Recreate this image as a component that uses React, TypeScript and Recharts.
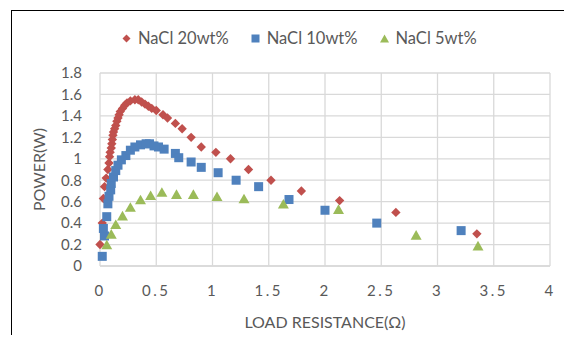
import { ScatterChart, Scatter, XAxis, YAxis, CartesianGrid } from 'recharts'

// load resistance (ohm) vs output power (W)
const nacl20: [number, number][] = [
  [0.0, 0.2], [0.02, 0.4], [0.03, 0.63], [0.04, 0.74], [0.055, 0.82], [0.07, 0.9],
  [0.08, 0.96], [0.085, 1.02], [0.09, 1.06], [0.1, 1.1], [0.105, 1.14], [0.11, 1.18],
  [0.115, 1.22], [0.12, 1.25], [0.13, 1.28], [0.14, 1.31], [0.15, 1.35], [0.16, 1.38],
  [0.17, 1.41], [0.18, 1.44], [0.2, 1.47], [0.22, 1.5], [0.24, 1.52], [0.27, 1.54],
  [0.31, 1.55], [0.34, 1.55], [0.37, 1.53], [0.4, 1.51], [0.43, 1.49], [0.46, 1.47],
  [0.5, 1.45], [0.56, 1.41], [0.6, 1.38], [0.67, 1.33], [0.73, 1.28], [0.81, 1.2],
  [0.9, 1.11], [1.03, 1.06], [1.16, 1.0], [1.32, 0.9], [1.52, 0.8], [1.79, 0.7],
  [2.13, 0.61], [2.63, 0.5], [3.35, 0.3],
]

const nacl10: [number, number][] = [
  [0.02, 0.09], [0.04, 0.28], [0.03, 0.35], [0.06, 0.46], [0.07, 0.58], [0.08, 0.65],
  [0.095, 0.71], [0.1, 0.77], [0.12, 0.83], [0.14, 0.89], [0.16, 0.94], [0.19, 0.99],
  [0.23, 1.03], [0.27, 1.08], [0.31, 1.11], [0.36, 1.13], [0.41, 1.14], [0.44, 1.14],
  [0.48, 1.12], [0.52, 1.11], [0.57, 1.09], [0.67, 1.05], [0.7, 1.01], [0.81, 0.97],
  [0.9, 0.92], [1.05, 0.87], [1.21, 0.8], [1.41, 0.74], [1.68, 0.62], [2.0, 0.52],
  [2.46, 0.4], [3.21, 0.33],
]

const nacl5: [number, number][] = [
  [0.06, 0.2], [0.1, 0.3], [0.14, 0.39], [0.2, 0.47], [0.27, 0.55], [0.36, 0.62],
  [0.45, 0.66], [0.55, 0.69], [0.68, 0.67], [0.83, 0.67], [1.04, 0.65], [1.28, 0.63],
  [1.63, 0.58], [2.12, 0.53], [2.81, 0.29], [3.36, 0.19],
]

const xTicks = [0, 0.5, 1, 1.5, 2, 2.5, 3, 3.5, 4]
const yTicks = [0, 0.2, 0.4, 0.6, 0.8, 1, 1.2, 1.4, 1.6, 1.8]

const RED = '#C0504D'
const BLUE = '#4F81BD'
const GREEN = '#9BBB59'
const TEXT = '#595959'
const FONT = 'Lato, "Open Sans", sans-serif'

const toPoints = (rows: [number, number][]) => rows.map(([r, p]) => ({ r, p }))

const Diamond = ({ cx, cy }: any) => (
  <polygon points={`${cx},${cy - 4.7} ${cx + 4.7},${cy} ${cx},${cy + 4.7} ${cx - 4.7},${cy}`} fill={RED} />
)
const Square = ({ cx, cy }: any) => <rect x={cx - 4.5} y={cy - 4.5} width={9} height={9} fill={BLUE} />
const Triangle = ({ cx, cy }: any) => (
  <polygon points={`${cx},${cy - 4.8} ${cx + 5.5},${cy + 4.8} ${cx - 5.5},${cy + 4.8}`} fill={GREEN} />
)

const legendItems = [
  { name: 'NaCl 20wt%', icon: <polygon points="4,0 8,4 4,8 0,4" fill={RED} /> },
  { name: 'NaCl 10wt%', icon: <rect x={0} y={0} width={8} height={8} fill={BLUE} /> },
  { name: 'NaCl 5wt%', icon: <polygon points="4,0 8.5,8 -0.5,8" fill={GREEN} /> },
]

export default function App() {
  return (
    <div style={{ width: 564, height: 335, marginBottom: -8, position: 'relative', overflow: 'hidden' }}>
      <div
        style={{
          position: 'absolute', left: 3, top: 2, right: 0, bottom: 0,
          borderLeft: '1px solid #000', borderTop: '1px solid #000',
        }}
      />
      <div
        style={{
          position: 'absolute', left: 114, top: 20, display: 'flex', gap: 22,
          fontFamily: FONT, fontSize: 16.5, color: TEXT, alignItems: 'center',
        }}
      >
        {legendItems.map((it) => (
          <div key={it.name} style={{ display: 'flex', alignItems: 'center', gap: 7 }}>
            <svg width={9} height={9} viewBox="-0.5 0 9 8" style={{ overflow: 'visible' }}>{it.icon}</svg>
            <span>{it.name}</span>
          </div>
        ))}
      </div>
      <div style={{ position: 'absolute', left: 4, top: 3 }}>
        <ScatterChart width={560} height={332} margin={{ top: 62, right: 22, bottom: 47, left: 0 }}>
          <CartesianGrid stroke="#D9D9D9" strokeWidth={1.3} />
          <XAxis
            type="number"
            dataKey="r"
            domain={[0, 4]}
            ticks={xTicks}
            interval={0}
            height={30}
            axisLine={{ stroke: '#D9D9D9', strokeWidth: 1.3 }}
            tickLine={false}
            tickSize={0}
            tickMargin={19}
            tick={{ fill: TEXT, fontSize: 15, fontFamily: FONT, letterSpacing: 2.5 }}
            label={({ viewBox }: any) => (
              <text
                x={viewBox.x + viewBox.width / 2}
                y={viewBox.y + 55}
                textAnchor="middle"
                dominantBaseline="central"
                fill={TEXT}
                fontSize={16}
                fontFamily={FONT}
              >
                LOAD RESISTANCE(Ω)
              </text>
            )}
          />
          <YAxis
            type="number"
            dataKey="p"
            domain={[0, 1.8]}
            ticks={yTicks}
            interval={0}
            width={88}
            axisLine={false}
            tickLine={false}
            tickSize={0}
            tickMargin={18}
            tick={{ fill: TEXT, fontSize: 15, fontFamily: FONT }}
            label={({ viewBox }: any) => {
              const x = 26
              const y = viewBox.y + viewBox.height / 2
              return (
                <text
                  x={x}
                  y={y}
                  transform={`rotate(-90, ${x}, ${y})`}
                  textAnchor="middle"
                  dominantBaseline="central"
                  fill={TEXT}
                  fontSize={16}
                  fontFamily={FONT}
                >
                  POWER(W)
                </text>
              )
            }}
          />
          <Scatter name="NaCl 20wt%" data={toPoints(nacl20)} shape={Diamond} isAnimationActive={false} />
          <Scatter name="NaCl 10wt%" data={toPoints(nacl10)} shape={Square} isAnimationActive={false} />
          <Scatter name="NaCl 5wt%" data={toPoints(nacl5)} shape={Triangle} isAnimationActive={false} />
        </ScatterChart>
      </div>
    </div>
  )
}
